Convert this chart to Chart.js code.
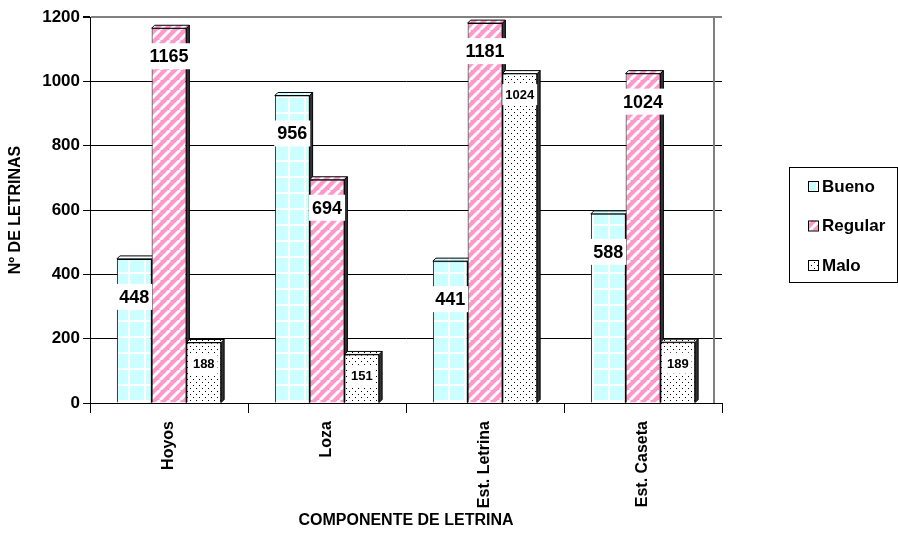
<!DOCTYPE html>
<html>
<head>
<meta charset="utf-8">
<script src="https://cdn.jsdelivr.net/npm/chart.js@4.4.0/dist/chart.umd.min.js"></script>
<style>
    html, body { margin: 0; padding: 0; background: #fff; }
    #wrap { width: 898px; height: 537px; }
</style>
</head>
<body>
<div id="wrap"><canvas id="letrinaChart"></canvas></div>
<script>
// Data
const categories = ['Hoyos', 'Loza', 'Est. Letrina', 'Est. Caseta'];
const bueno = [448, 956, 441, 588];
const regular = [1165, 694, 1181, 1024];
const malo = [188, 151, 1024, 189];
const seriesNames = ['Bueno', 'Regular', 'Malo'];
const yTicks = [0, 200, 400, 600, 800, 1000, 1200];

const FONT = 'Arial, "Liberation Sans", sans-serif';

// Excel-like fill patterns
function makePattern(kind) {
    const c = document.createElement('canvas');
    const g = c.getContext('2d');
    if (kind === 'grid') {
        c.width = 16; c.height = 16;
        g.fillStyle = '#CCFFFF';
        g.fillRect(0, 0, 16, 16);
        g.fillStyle = '#fff';
        g.fillRect(0, 0, 16, 2);
        g.fillRect(0, 0, 2, 16);
    } else if (kind === 'stripe') {
        c.width = 10; c.height = 10;
        g.fillStyle = '#FF99CC';
        g.fillRect(0, 0, 10, 10);
        g.strokeStyle = '#fff';
        g.lineWidth = 3;
        g.beginPath();
        for (let k = -10; k <= 20; k += 10) {
            g.moveTo(k, 10);
            g.lineTo(k + 10, 0);
        }
        g.stroke();
    } else {
        c.width = 6; c.height = 6;
        g.fillStyle = '#fff';
        g.fillRect(0, 0, 6, 6);
        g.fillStyle = '#000';
        g.fillRect(1, 1, 1, 1);
        g.fillRect(4, 4, 1, 1);
    }
    return g.createPattern(c, 'repeat');
}

const fills = [makePattern('grid'), makePattern('stripe'), makePattern('dots')];

// 3D top + side faces, drawn behind the bar fronts so neighbours hide them
const barDepth = {
    id: 'barDepth',
    beforeDatasetsDraw(chart) {
        const ctx = chart.ctx;
        const d = 3;
        chart.data.datasets.forEach((ds, i) => {
            chart.getDatasetMeta(i).data.forEach(bar => {
                const L = bar.x - bar.width / 2;
                const R = bar.x + bar.width / 2;
                const y = bar.y;
                const b = bar.base;
                ctx.save();
                ctx.strokeStyle = '#000';
                ctx.lineWidth = 1;
                // right face
                ctx.beginPath();
                ctx.moveTo(R, y);
                ctx.lineTo(R + d, y - d);
                ctx.lineTo(R + d, b - d);
                ctx.lineTo(R, b);
                ctx.closePath();
                ctx.fillStyle = '#333';
                ctx.fill();
                ctx.stroke();
                // top face
                ctx.beginPath();
                ctx.moveTo(L, y);
                ctx.lineTo(L + d, y - d);
                ctx.lineTo(R + d, y - d);
                ctx.lineTo(R, y);
                ctx.closePath();
                ctx.fillStyle = ds.backgroundColor;
                ctx.fill();
                ctx.stroke();
                ctx.restore();
            });
        });
    }
};

// Value labels in white boxes inside the bars
const valueLabels = {
    id: 'valueLabels',
    afterDatasetsDraw(chart) {
        const ctx = chart.ctx;
        chart.data.datasets.forEach((ds, i) => {
            chart.getDatasetMeta(i).data.forEach((bar, j) => {
                const txt = String(ds.data[j]);
                const size = ds.labelSize;
                ctx.save();
                ctx.font = 'bold ' + size + 'px ' + FONT;
                const w = ctx.measureText(txt).width + 6;
                const h = size + 8;
                const cy = bar.y + ds.labelDrop;
                ctx.fillStyle = '#fff';
                ctx.fillRect(bar.x - w / 2, cy - h / 2, w, h);
                ctx.fillStyle = '#000';
                ctx.textAlign = 'center';
                ctx.textBaseline = 'middle';
                ctx.fillText(txt, bar.x, cy + 1);
                ctx.restore();
            });
        });
    }
};

// Plot frame and boxed legend
const frameAndLegend = {
    id: 'frameAndLegend',
    afterDraw(chart) {
        const ctx = chart.ctx;
        const a = chart.chartArea;
        ctx.save();
        ctx.strokeStyle = '#808080';
        ctx.lineWidth = 2;
        ctx.beginPath();
        ctx.moveTo(a.right - 8, a.top);
        ctx.lineTo(a.right - 8, a.bottom);
        ctx.stroke();

        const bx = a.right + 67;
        const by = a.top + 150;
        ctx.strokeStyle = '#000';
        ctx.lineWidth = 1;
        ctx.strokeRect(bx + 0.5, by + 0.5, 108, 115);
        ctx.font = 'bold 17px ' + FONT;
        ctx.textBaseline = 'middle';
        chart.data.datasets.forEach((ds, i) => {
            const ry = by + 19 + i * 39.5;
            ctx.fillStyle = ds.backgroundColor;
            ctx.fillRect(bx + 19, ry - 5, 10, 10);
            ctx.strokeRect(bx + 19.5, ry - 4.5, 10, 10);
            ctx.fillStyle = '#000';
            ctx.fillText(seriesNames[i], bx + 33, ry + 1);
        });
        ctx.restore();
    }
};

function initChart() {
    const ctx = document.getElementById('letrinaChart').getContext('2d');
    const common = {
        borderColor: '#000',
        borderWidth: 1,
        categoryPercentage: 0.66,
        barPercentage: 1.0
    };

    new Chart(ctx, {
        type: 'bar',
        data: {
            labels: categories,
            datasets: [
                Object.assign({ label: seriesNames[0], data: bueno, backgroundColor: fills[0], labelSize: 18, labelDrop: 38 }, common),
                Object.assign({ label: seriesNames[1], data: regular, backgroundColor: fills[1], labelSize: 18, labelDrop: 28 }, common),
                Object.assign({ label: seriesNames[2], data: malo, backgroundColor: fills[2], labelSize: 13, labelDrop: 21 }, common)
            ]
        },
        options: {
            responsive: true,
            maintainAspectRatio: false,
            animation: false,
            layout: { padding: { top: 17, right: 176, left: 0, bottom: 0 } },
            plugins: {
                legend: { display: false },
                tooltip: { enabled: false }
            },
            scales: {
                x: {
                    afterFit: s => { s.height = 134; },
                    grid: {
                        offset: true,
                        drawOnChartArea: false,
                        drawTicks: true,
                        tickLength: 10,
                        color: '#000'
                    },
                    border: { color: '#000', width: 1 },
                    ticks: {
                        color: '#000',
                        font: { family: FONT, size: 16, weight: 'bold' },
                        minRotation: 90,
                        maxRotation: 90,
                        padding: 8
                    },
                    title: {
                        display: true,
                        text: 'COMPONENTE DE LETRINA',
                        color: '#000',
                        font: { family: FONT, size: 16, weight: 'bold' },
                        padding: { top: 0, bottom: 7 }
                    }
                },
                y: {
                    min: yTicks[0],
                    max: yTicks[yTicks.length - 1],
                    afterFit: s => { s.width = 90; },
                    afterBuildTicks: s => { s.ticks = yTicks.map(v => ({ value: v })); },
                    grid: {
                        color: c => (c.tick && c.tick.value === 1200) ? '#808080' : '#000',
                        lineWidth: c => (c.tick && c.tick.value === 1200) ? 2 : 1,
                        tickLength: 7,
                        tickColor: '#000'
                    },
                    border: { color: '#000', width: 1 },
                    ticks: {
                        color: '#000',
                        font: { family: FONT, size: 17, weight: 'bold' },
                        padding: 3,
                        callback: v => String(v)
                    },
                    title: {
                        display: true,
                        text: 'Nº DE LETRINAS',
                        color: '#000',
                        font: { family: FONT, size: 16, weight: 'bold' },
                        padding: { top: 6, bottom: 0 }
                    }
                }
            }
        },
        plugins: [barDepth, valueLabels, frameAndLegend]
    });
}

window.addEventListener('load', initChart);
</script>
</body>
</html>
